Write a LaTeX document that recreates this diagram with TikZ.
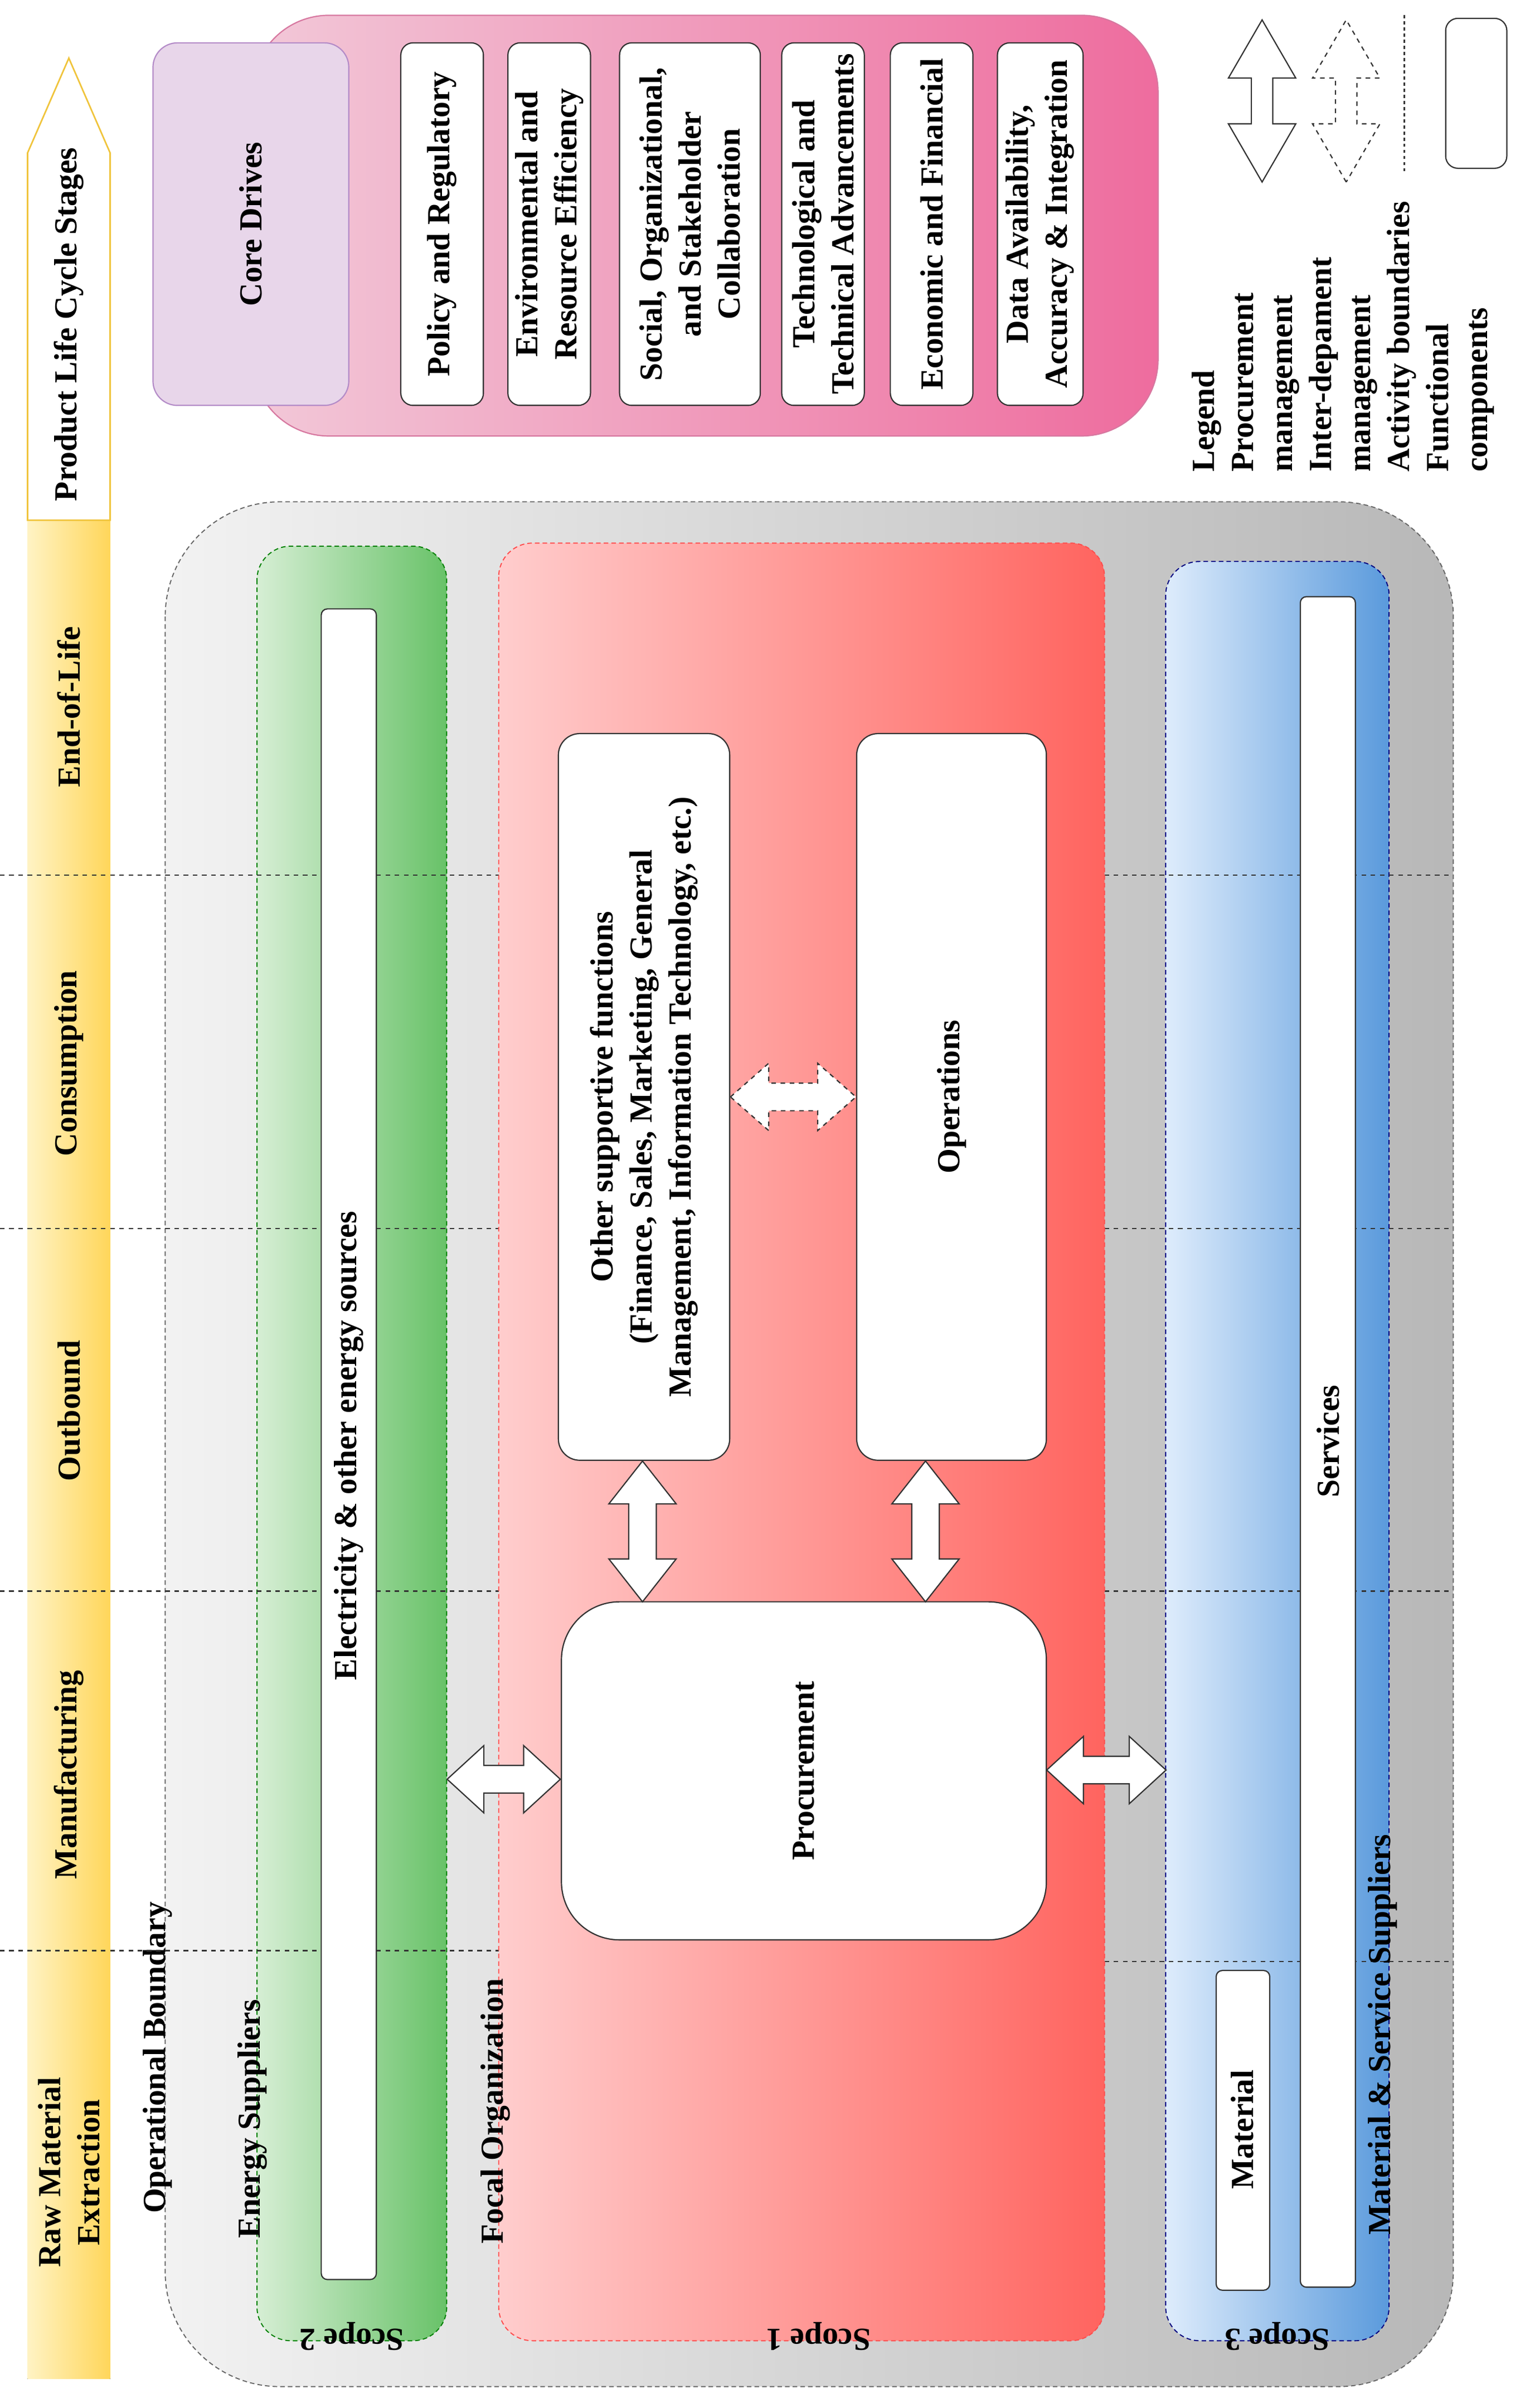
\documentclass[tikz,border=0pt]{standalone}
\usepackage{fontspec}
\setmainfont{Liberation Serif}
\usetikzlibrary{calc}
\definecolor{yelL}{RGB}{255,243,196}
\definecolor{yelR}{RGB}{255,214,90}
\definecolor{yelO}{RGB}{240,196,60}
\definecolor{pinkL}{RGB}{242,200,216}
\definecolor{pinkR}{RGB}{238,108,158}
\definecolor{pinkO}{RGB}{215,120,160}
\definecolor{grnL}{RGB}{214,238,212}
\definecolor{grnR}{RGB}{104,194,104}
\definecolor{bluL}{RGB}{222,236,252}
\definecolor{bluR}{RGB}{90,154,220}
\definecolor{redL}{RGB}{255,205,205}
\definecolor{redR}{RGB}{255,100,95}
\definecolor{cdF}{RGB}{232,214,234}
\definecolor{cdO}{RGB}{180,140,200}
\begin{document}
\begin{tikzpicture}[x=1pt,y=-1pt,
  lbl/.style={rotate=90,font=\bfseries\fontsize{21}{25.5}\selectfont,align=center},
  wbox/.style={draw=black!80,fill=white,rounded corners=8pt,line width=0.8pt},
  astyle/.style={draw=black!80,fill=white,line width=0.8pt},
  stage/.style={dash pattern=on 3pt off 3pt,line width=0.8pt,black!80},
  scope/.style={dash pattern=on 3pt off 2pt,line width=0.7pt,rounded corners=22pt},
  pics/darrow/.style n args={4}{code={% half length, shaft half width, head half width, head length
    \draw[astyle,pic actions] (-#1,0) -- (-#1+#4,-#3) -- (-#1+#4,-#2) -- (#1-#4,-#2) -- (#1-#4,-#3) -- (#1,0)
      -- (#1-#4,#3) -- (#1-#4,#2) -- (-#1+#4,#2) -- (-#1+#4,#3) -- cycle;}}]
\useasboundingbox (0,0) rectangle (1000,1574);
% yellow life-cycle arrow
\fill[left color=yelL,right color=yelR] (18,340) rectangle (72,1555);
\draw[draw=yelO,fill=white,line width=1pt] (18,340) -- (18,100) -- (45,38) -- (72,100) -- (72,340) -- cycle;
\node[lbl] (plc) at (45,212) {Product Life Cycle Stages};
\node[lbl] (s1) at (45,1420) {Raw Material\\Extraction};
\node[lbl] (s2) at (45,1160) {Manufacturing};
\node[lbl] (s3) at (45,922) {Outbound};
\node[lbl] (s4) at (45,695) {Consumption};
\node[lbl] (s5) at (45,462) {End-of-Life};
% operational boundary
\draw[scope,rounded corners=75pt,draw=black!60,left color=black!5,right color=black!28] (108,328) rectangle (950,1560);
\node[lbl,anchor=south] (ob) at (116,1345) {Operational Boundary};
% scope 2
\draw[scope,draw=green!50!black,left color=grnL,right color=grnR] (168,357) rectangle (292,1530);
% scope 3
\draw[scope,draw=blue!50!black,left color=bluL,right color=bluR] (762,367) rectangle (908,1530);
% stage lines
\foreach \yy in {1275,1040,803,572} \draw[stage] (0,\yy) -- (330,\yy);
\foreach \yy in {1282,1040,803,572} \draw[stage] (722,\yy) -- (950,\yy);
% scope 1
\draw[scope,draw=red!70,left color=redL,right color=redR] (326,355) rectangle (722,1530);
\node[lbl,anchor=south] (eslab) at (178,1385) {Energy Suppliers};
\node[lbl,anchor=south] (folab) at (337,1380) {Focal Organization};
\node[lbl,anchor=south] (mslab) at (917,1330) {Material \& Service Suppliers};
\node[lbl,rotate=90] (sc2) at (230,1527) {Scope 2};
\node[lbl,rotate=90] (sc1) at (535,1527) {Scope 1};
\node[lbl,rotate=90] (sc3) at (835,1527) {Scope 3};
% energy bar
\draw[wbox,rounded corners=4pt] (210,398) rectangle (246,1490);
\node[lbl] (elec) at (228,945) {Electricity \& other energy sources};
% scope 3 bars
\draw[wbox,rounded corners=4pt] (850,390) rectangle (886,1495);
\node[lbl] (serv) at (868,942) {Services};
\draw[wbox,rounded corners=4pt] (795,1288) rectangle (830,1497);
\node[lbl] (mat) at (812,1392) {Material};
% focal boxes
\node[wbox,rounded corners=14pt,minimum width=112pt,minimum height=475pt] (osf) at (421,717) {};
\node[lbl] at (osf) {Other supportive functions\\(Finance, Sales, Marketing, General\\Management, Information Technology, etc.)};
\node[wbox,rounded corners=14pt,minimum width=124pt,minimum height=475pt] (ops) at (622,717) {};
\node[lbl] at (ops) {Operations};
\node[wbox,rounded corners=38pt,minimum width=317pt,minimum height=221pt] (proc) at (525.5,1157.5) {};
\node[lbl] at (proc) {Procurement};
% arrows
\pic[dashed] at ($(osf.east)!0.5!(ops.west)$) {darrow={41}{9}{22}{25}};
\pic[rotate=90] at (420,1001) {darrow={46}{9}{22}{28}};
\pic[rotate=90] at (605,1001) {darrow={46}{9}{22}{28}};
\pic at ($(292,1163)!0.5!(proc.west |- 0,1163)$) {darrow={37}{9}{22}{24}};
\pic at ($(proc.east |- 0,1157)!0.5!(762,1157)$) {darrow={39}{9}{22}{24}};
% core drives
\draw[line width=0.8pt,draw=pinkO,left color=pinkL,right color=pinkR,rounded corners=50pt] (165,10) rectangle (757,285);
\node[draw=cdO,fill=cdF,rounded corners=16pt,line width=0.8pt,minimum width=128pt,minimum height=237pt] (cd) at (164,146.5) {};
\node[lbl] at (cd) {Core Drives};
\foreach \xa/\xb/\t/\n in {262/316/{Policy and Regulatory}/d1, 332/386/{Environmental and\\Resource Efficiency}/d2, 405/497/{Social, Organizational,\\and Stakeholder\\Collaboration}/d3, 511/565/{Technological and\\Technical Advancements}/d4, 582/636/{Economic and Financial}/d5, 652/708/{Data Availability,\\Accuracy \& Integration}/d6}{
  \node[wbox,minimum width={\xb-\xa},minimum height=237pt] (\n) at ({(\xa+\xb)/2},146.5) {};
  \node[lbl] at (\n) {\t};
}
% legend
\pic[rotate=90] at (825,66) {darrow={53}{7}{22}{38}};
\pic[rotate=90,dashed] at (880,66) {darrow={53}{7}{22}{38}};
\coordinate (lt) at (918,10); \coordinate (lb) at (918,112);
\draw[stage,dash pattern=on 2pt off 2pt] (lt) -- (lb);
\node[wbox,minimum width=40pt,minimum height=98pt] (l4) at (965,61) {};
\node[lbl,anchor=west,align=left] (leg) at (878,312) {Legend\\Procurement\\management\\Inter-depament\\management\\Activity boundaries\\Functional\\components};
\end{tikzpicture}
\end{document}
